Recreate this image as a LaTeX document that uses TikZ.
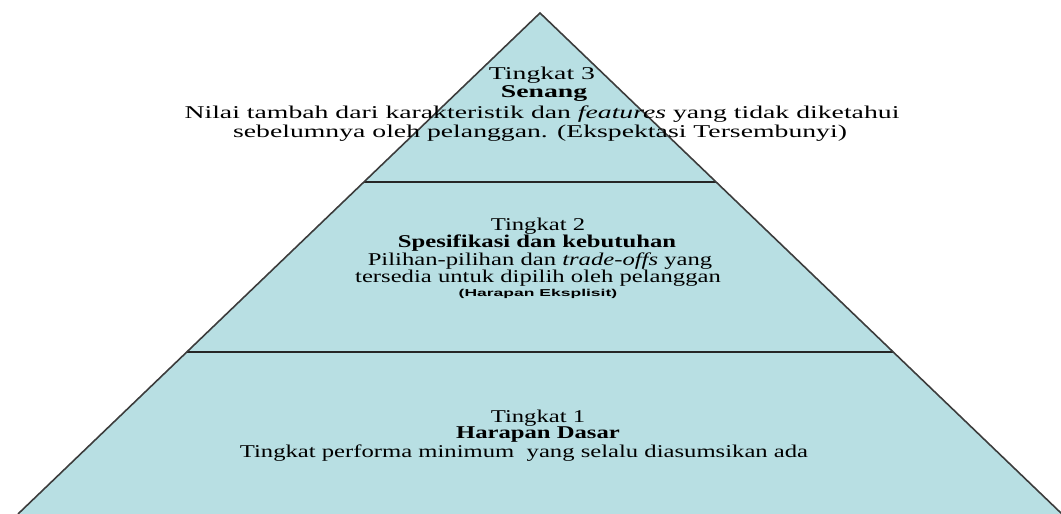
\documentclass[tikz,border=0pt]{standalone}
\usepackage{fontspec}
\newfontfamily\pyrfont[FakeStretch=1.37]{Liberation Serif}
\newfontfamily\pyrwide[FakeStretch=1.54]{Liberation Serif}
\newfontfamily\pyrsans[FakeStretch=1.75]{Liberation Sans}
\definecolor{pyrfill}{RGB}{184,223,227}
\definecolor{pyredge}{RGB}{60,60,60}
\tikzset{
  lbl/.style={inner sep=0pt, anchor=center, font=\pyrfont\fontsize{13.5}{14}\selectfont, text=black},
  lblb/.style={lbl, font=\pyrfont\bfseries\fontsize{13.5}{14}\selectfont},
  lblw/.style={lbl, font=\pyrwide\fontsize{13.5}{14}\selectfont},
  lblwb/.style={lbl, font=\pyrwide\bfseries\fontsize{13.5}{14}\selectfont},
  lbls/.style={inner sep=0pt, anchor=center, font=\pyrsans\bfseries\fontsize{7.5}{8}\selectfont},
  edge/.style={draw=pyredge, line width=1.2pt, line join=miter},
  divider/.style={draw=black!85, line width=0.9pt}
}
\begin{document}
\begin{tikzpicture}[x=0.75pt,y=-0.75pt]
\useasboundingbox (0,0) rectangle (1061,514);
\coordinate (apex) at (540,13);
\coordinate (bl) at (18,514);
\coordinate (br) at (1062,514);
\coordinate (d1l) at (364,182);
\coordinate (d1r) at (716,182);
\coordinate (d2l) at (187,352);
\coordinate (d2r) at (893,352);
\fill[pyrfill] (apex) -- (bl) -- (br) -- cycle;
\draw[divider] (d1l) -- (d1r);
\draw[divider] (d2l) -- (d2r);
\draw[edge] (bl) -- (apex) -- (br);
% tier 3
\node[lblw] (t3a) at (542,75) {Tingkat 3};
\node[lblwb] (t3b) at (544,94) {Senang};
\node[lblw] (t3c) at (542,114) {Nilai tambah dari karakteristik dan \textit{features} yang tidak diketahui};
\node[lblw] (t3d) at (540,133) {sebelumnya oleh pelanggan. (Ekspektasi Tersembunyi)};
% tier 2
\node[lbl] (t2a) at (538,226) {Tingkat 2};
\node[lblb] (t2b) at (537,243) {Spesifikasi dan kebutuhan};
\node[lbl] (t2c) at (540,261) {Pilihan-pilihan dan \textit{trade-offs} yang};
\node[lbl] (t2d) at (538,278) {tersedia untuk dipilih oleh pelanggan};
\node[lbls] (t2e) at (538,294) {(Harapan Eksplisit)};
% tier 1
\node[lbl] (t1a) at (538,418) {Tingkat 1};
\node[lblb] (t1b) at (538,435) {Harapan Dasar};
\node[lbl] (t1c) at (524,453) {Tingkat performa minimum\ \ yang selalu diasumsikan ada};
\end{tikzpicture}
\end{document}
